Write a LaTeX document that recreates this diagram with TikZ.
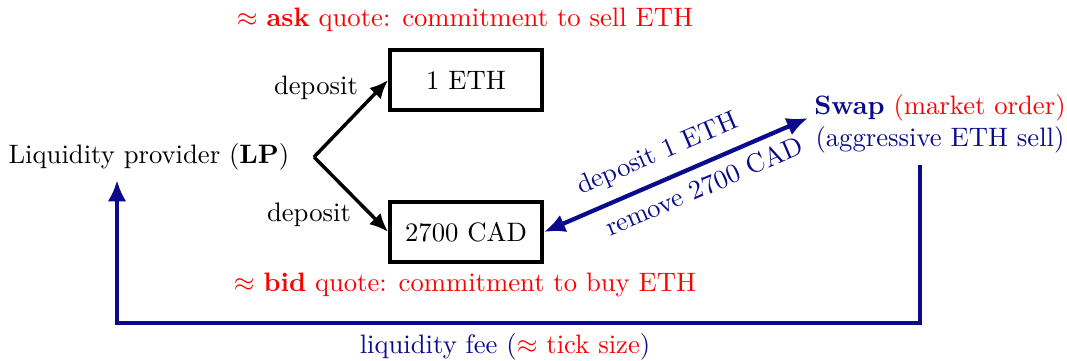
\documentclass[tikz,border=0pt]{standalone}
\usetikzlibrary{arrows.meta}
\definecolor{navy}{RGB}{10,10,140}
\begin{document}
\begin{tikzpicture}[x=0.375pt,y=-0.375pt,
  box/.style={draw=black,line width=1.4pt,minimum width=57pt,minimum height=22.5pt,inner sep=0pt},
  blk/.style={line width=1.3pt,-{Latex[length=7pt,width=6pt]}},
  blu/.style={draw=navy,line width=1.6pt},
  red/.style={text=red},
  nav/.style={text=navy}]
\useasboundingbox (0,0) rectangle (1067,360);
\node[red] (ask) at (465,20) {$\approx$ \textbf{ask} quote: commitment to sell ETH};
\node[box] (eth) at (466,80) {1 ETH};
\node[box] (cad) at (466,232) {2700 CAD};
\node[red] (bid) at (465,285) {$\approx$ \textbf{bid} quote: commitment to buy ETH};
\node[anchor=west,inner sep=0pt] (lp) at (8,157) {Liquidity provider (\textbf{LP})};
\coordinate (br) at (314,157);
\draw[blk] (br) -- (eth.west);
\draw[blk] (br) -- (cad.west);
\node (d1) at (316,88) {deposit};
\node (d2) at (309,215) {deposit};
\node[align=center,nav] (swap) at (940,124) {\textbf{Swap} {\color{red}(market order)}\\(aggressive ETH sell)};
\draw[blu,{Latex[length=8pt,width=7pt]}-{Latex[length=8pt,width=7pt]}] (cad.east) -- (808,118)
  node[pos=0.47,sloped,above,nav,inner sep=4.5pt] (dep) {deposit 1 ETH}
  node[pos=0.575,sloped,below,nav,inner sep=3.5pt] (rem) {remove 2700 CAD};
\coordinate (s0) at (920,165);
\coordinate (c1) at (920,323);
\coordinate (c2) at (117,323);
\coordinate (lpin) at (117,180);
\draw[blu,-{Latex[length=8pt,width=7pt]}] (s0) -- (c1) -- (c2) -- (lpin);
\node[nav] (fee) at (505,347) {liquidity fee ({\color{red}$\approx$ tick size})};
\end{tikzpicture}
\end{document}
